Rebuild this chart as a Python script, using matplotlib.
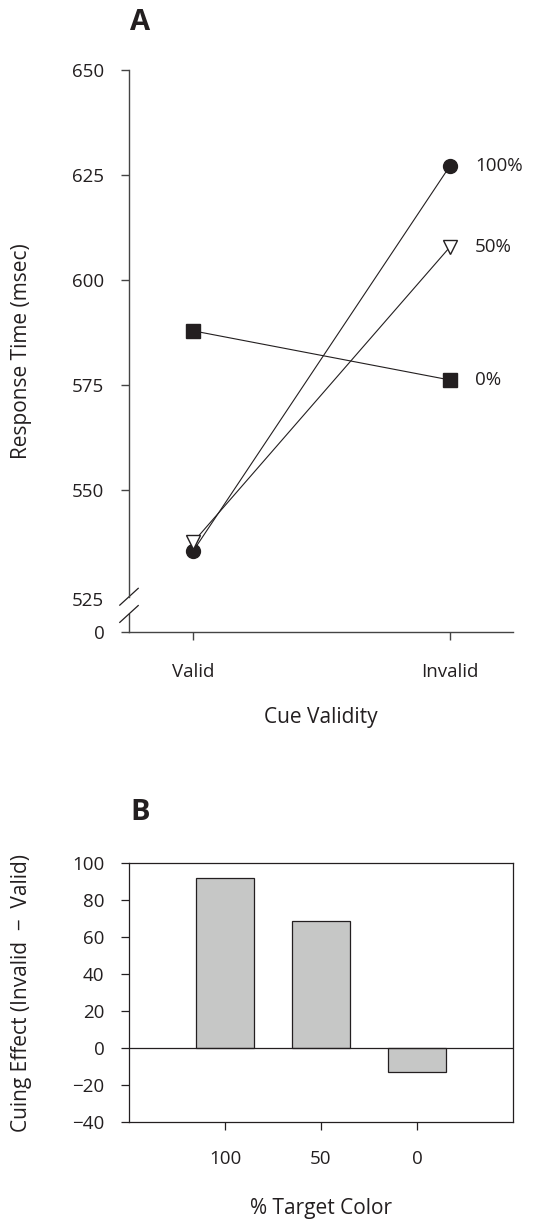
import matplotlib
matplotlib.use("agg")
import matplotlib.pyplot as plt
import matplotlib.transforms as mtransforms
from matplotlib.lines import Line2D

plt.rcParams['font.family'] = ['Open Sans', 'DejaVu Sans']
plt.rcParams['font.size'] = 13.5

INK = '#231f20'
TICK_FS = 13.5
LABEL_FS = 15

# panel A data
cue_labels = ['Valid', 'Invalid']
series_names = ['100%', '50%', '0%']
rt_100 = [535.5, 627.2]
rt_50 = [537.6, 607.9]
rt_0 = [587.9, 576.2]
rt_ticks = [550, 575, 600, 625, 650]

# panel B data
color_labels = ['100', '50', '0']
cuing_effect = [91.9, 68.8, -13.1]
effect_ticks = [-40, -20, 0, 20, 40, 60, 80, 100]

fig = plt.figure(figsize=(5.48, 12.22), dpi=100)

# ---------------- panel A ----------------
ax = fig.add_axes([0.2354, 0.4828, 0.7007, 0.4599])
y_bottom = 516.2
ax.set_xlim(-0.25, 1.245)
ax.set_ylim(y_bottom, 650)

styles = [dict(marker='o', mfc=INK, mec=INK, ms=10),
          dict(marker='v', mfc='white', mec=INK, ms=10.5, mew=1.0),
          dict(marker='s', mfc=INK, mec=INK, ms=9.5)]
for vals, name, st in zip([rt_100, rt_50, rt_0], series_names, styles):
    ax.plot([0, 1], vals, color=INK, lw=0.8, **st)
    ax.annotate(name, xy=(1, vals[1]), xytext=(18, 0), textcoords='offset points',
                va='center', ha='left', color=INK, fontsize=TICK_FS)

for s in ['top', 'right']:
    ax.spines[s].set_visible(False)
for s in ['left', 'bottom']:
    ax.spines[s].set_color('#444444')
    ax.spines[s].set_linewidth(1.0)

# broken y axis
brk_hi, brk_lo = 524.6, 520.5
ax.spines['left'].set_bounds(brk_hi, 650)
trans = mtransforms.blended_transform_factory(ax.transAxes, ax.transData)
ax.add_line(Line2D([0, 0], [y_bottom, brk_lo], transform=trans, color='#444444',
                   lw=1.0, clip_on=False))
for yc in [brk_hi, brk_lo]:
    ax.add_line(Line2D([-0.024, 0.024], [yc - 2.0, yc + 2.0], transform=trans,
                       color=INK, lw=0.9, clip_on=False))

ax.set_yticks([y_bottom, 524.0] + rt_ticks)
ax.set_yticklabels(['0', '525'] + [str(t) for t in rt_ticks])
ax.yaxis.get_major_ticks()[1].tick1line.set_visible(False)
ax.set_xticks([0, 1])
ax.set_xticklabels(cue_labels)
ax.tick_params(axis='y', direction='out', length=5.8, width=1.0, pad=12,
               colors='#444444', labelcolor=INK, labelsize=TICK_FS)
ax.tick_params(axis='x', direction='out', length=5.8, width=1.0, pad=16.5,
               colors='#444444', labelcolor=INK, labelsize=TICK_FS)

ax.set_ylabel('Response Time (msec)', color=INK, fontsize=LABEL_FS)
ax.yaxis.set_label_coords(-0.253, 0.5)
ax.set_xlabel('Cue Validity', color=INK, fontsize=LABEL_FS)
ax.xaxis.set_label_coords(0.5, -0.133)

fig.text(130 / 548, 1 - 23 / 1222, 'A', fontsize=21, fontweight='bold',
         ha='left', va='center', color=INK)

# ---------------- panel B ----------------
bx = fig.add_axes([0.2354, 0.0818, 0.7007, 0.2120])
pos = list(range(len(color_labels)))
bx.bar(pos, cuing_effect, width=0.6, color='#c6c7c6', edgecolor=INK, linewidth=0.9,
       zorder=2)
bx.axhline(0, color=INK, lw=0.9, zorder=3)
bx.set_xlim(-1, 3)
bx.set_ylim(-40, 100)
bx.set_yticks(effect_ticks)
bx.set_xticks(pos)
bx.set_xticklabels(color_labels)
for s in bx.spines.values():
    s.set_color(INK)
    s.set_linewidth(0.9)
bx.tick_params(axis='y', direction='out', length=5.8, width=0.9, pad=12,
               colors=INK, labelsize=TICK_FS)
bx.tick_params(axis='x', direction='out', length=5.8, width=0.9, pad=14,
               colors=INK, labelsize=TICK_FS)

bx.set_ylabel('Cuing Effect (Invalid  \u2212  Valid)', color=INK, fontsize=LABEL_FS)
bx.yaxis.set_label_coords(-0.253, 0.5)
bx.set_xlabel('% Target Color', color=INK, fontsize=LABEL_FS)
bx.xaxis.set_label_coords(0.5, -0.295)

fig.text(130 / 548, 1 - 813 / 1222, 'B', fontsize=21, fontweight='bold',
         ha='left', va='center', color=INK)

fig.savefig('out.png', dpi=100)
